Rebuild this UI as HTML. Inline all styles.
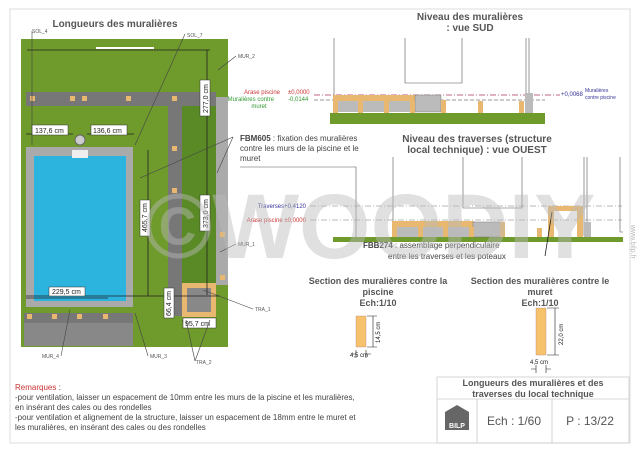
<!DOCTYPE html>
<html><head><meta charset="utf-8"><style>
body{margin:0;background:#fff}
svg{display:block;font-family:"Liberation Sans",sans-serif}
</style></head><body>
<svg width="640" height="452" viewBox="0 0 640 452" xmlns="http://www.w3.org/2000/svg">
<rect x="10" y="9" width="620" height="434" fill="#fff" stroke="#ddd"/>
<!-- plan -->
<text x="115" y="27" font-size="10" font-weight="bold" fill="#555" text-anchor="middle">Longueurs des muralières</text>
<rect x="21" y="39" width="207" height="88" fill="#6f9a2c"/>
<rect x="21" y="127" width="195" height="220" fill="#6f9a2c"/>
<rect x="216" y="97" width="12" height="188" fill="#aaa"/>
<rect x="216" y="285" width="12" height="62" fill="#6f9a2c"/>
<rect x="26" y="92" width="190" height="14" fill="#777"/>
<rect x="168" y="106" width="15" height="210" fill="#777"/>
<rect x="182" y="106" width="34" height="177" fill="#5a8a25"/>
<rect x="182" y="283" width="34" height="34" fill="#e8b870"/>
<rect x="187" y="288" width="24" height="24" fill="#888"/>
<rect x="26" y="147" width="107" height="160" fill="#aaa"/>
<rect x="34" y="156" width="92" height="145" fill="#2cb3de"/>
<rect x="72" y="150" width="16" height="8" fill="#eee"/>
<circle cx="80" cy="140" r="5" fill="#ccc" stroke="#666"/>
<rect x="24" y="313" width="109" height="10" fill="#777"/>
<rect x="24" y="323" width="109" height="23" fill="#888"/>
<g fill="#e8b870"><rect x="30" y="96" width="5" height="5"/><rect x="70" y="96" width="5" height="5"/><rect x="82" y="96" width="5" height="5"/><rect x="126" y="96" width="5" height="5"/><rect x="172" y="96" width="5" height="5"/><rect x="172" y="146" width="5" height="5"/><rect x="172" y="188" width="5" height="5"/><rect x="27" y="314" width="5" height="5"/><rect x="52" y="314" width="5" height="5"/><rect x="77" y="314" width="5" height="5"/><rect x="103" y="314" width="5" height="5"/><rect x="220" y="232" width="5" height="5"/><rect x="220" y="275" width="5" height="5"/></g>
<rect x="96" y="47" width="58" height="2" fill="#fff"/>
<g stroke="#222" stroke-width="0.8" fill="none">
<line x1="27" y1="50" x2="210" y2="50"/><line x1="207" y1="50" x2="207" y2="295"/>
<line x1="26" y1="134" x2="73" y2="134"/><line x1="87" y1="134" x2="134" y2="134"/>
<line x1="148" y1="150" x2="148" y2="296"/><line x1="26" y1="296" x2="220" y2="296"/>
<line x1="26" y1="298" x2="108" y2="298"/>
<line x1="182" y1="321" x2="216" y2="321"/>
</g>
<g fill="#fff" stroke="#333" stroke-width="0.5">
<rect x="32" y="125" width="36" height="10"/><rect x="91" y="125" width="36" height="10"/>
<rect x="200" y="80" width="10" height="36"/><rect x="200" y="195" width="10" height="36"/>
<rect x="140" y="200" width="10" height="36"/><rect x="164" y="288" width="10" height="30"/>
<rect x="49" y="287" width="36" height="9"/><rect x="183" y="318" width="33" height="10"/>
</g>
<g font-size="7" fill="#222">
<text x="35" y="133">137,6 cm</text><text x="93" y="133">136,6 cm</text>
<text x="52" y="294">229,5 cm</text><text x="185" y="326">95,7 cm</text>
<text transform="translate(208,113) rotate(-90)">277,0 cm</text>
<text transform="translate(208,228) rotate(-90)">373,0 cm</text>
<text transform="translate(147,232) rotate(-90)">465,7 cm</text>
<text transform="translate(171,316) rotate(-90)">66,4 cm</text>
</g>
<g font-size="5" fill="#555">
<text x="32" y="33">SOL_4</text><text x="187" y="37">SOL_7</text><text x="238" y="58">MUR_2</text>
<text x="238" y="246">MUR_1</text><text x="255" y="311">TRA_1</text><text x="196" y="364">TRA_2</text>
<text x="150" y="358">MUR_3</text><text x="42" y="358">MUR_4</text>
</g>
<g stroke="#444" stroke-width="0.6"><line x1="32" y1="31" x2="32" y2="145"/><line x1="185" y1="34" x2="135" y2="145"/><line x1="236" y1="56" x2="218" y2="70"/><line x1="236" y1="244" x2="220" y2="252"/><line x1="253" y1="309" x2="203" y2="290"/><line x1="195" y1="361" x2="186" y2="320"/><line x1="195" y1="361" x2="210" y2="320"/><line x1="148" y1="356" x2="135" y2="313"/><line x1="61" y1="356" x2="70" y2="310"/><line x1="233" y1="137" x2="140" y2="178"/><line x1="233" y1="137" x2="217" y2="173"/></g>
<text x="240" y="141" font-size="8" fill="#444"><tspan font-weight="bold">FBM605</tspan> : fixation des muralières</text>
<text x="240" y="151" font-size="8" fill="#444">contre les murs de la piscine et le</text>
<text x="240" y="161" font-size="8" fill="#444">muret</text>
<!-- vue SUD -->
<text x="470" y="20" font-size="10" font-weight="bold" fill="#555" text-anchor="middle">Niveau des muralières</text>
<text x="470" y="31" font-size="10" font-weight="bold" fill="#555" text-anchor="middle">: vue SUD</text>
<g stroke="#555" stroke-width="0.6" fill="none"><line x1="334" y1="38" x2="334" y2="95"/><path d="M405 38V83H462V38"/><line x1="526" y1="38" x2="526" y2="95"/><line x1="529" y1="38" x2="529" y2="95"/></g>
<text x="280" y="94" font-size="6" fill="#c33" text-anchor="end">Arase piscine</text>
<text x="288" y="94" font-size="6" fill="#c33">±0,0000</text>
<text x="274" y="101" font-size="6" fill="#393" text-anchor="end">Muralières contre</text>
<text x="288" y="101" font-size="6" fill="#393">-0,0144</text>
<text x="259" y="108" font-size="6" fill="#393" text-anchor="middle">muret</text>
<line x1="314" y1="95" x2="560" y2="95" stroke="#a36" stroke-width="0.7" stroke-dasharray="6,2,1,2"/>
<line x1="314" y1="100" x2="545" y2="100" stroke="#777" stroke-width="0.7" stroke-dasharray="4,2"/>
<text x="561" y="96" font-size="6" fill="#339">+0,0068</text>
<text x="585" y="92" font-size="5" fill="#339">Muralières</text><text x="585" y="99" font-size="5" fill="#339">contre piscine</text>
<rect x="330" y="113" width="215" height="11" fill="#6f9a2c"/>
<rect x="333" y="95" width="82" height="6" fill="#e8b870"/>
<rect x="338" y="101" width="75" height="11" fill="#bbb"/>
<rect x="415" y="95" width="26" height="17" fill="#bbb" stroke="#666" stroke-width="0.4"/>
<g fill="#e8b870"><rect x="333" y="101" width="5" height="12"/><rect x="358" y="101" width="5" height="12"/><rect x="384" y="101" width="5" height="12"/><rect x="410" y="101" width="5" height="12"/><rect x="441" y="100" width="5" height="13"/><rect x="478" y="101" width="5" height="12"/><rect x="519" y="101" width="5" height="12"/></g>
<rect x="525" y="93" width="8" height="20" fill="#bbb"/>
<!-- vue OUEST -->
<text x="477" y="142" font-size="10" font-weight="bold" fill="#555" text-anchor="middle">Niveau des traverses (structure</text>
<text x="477" y="153" font-size="10" font-weight="bold" fill="#555" text-anchor="middle">local technique) : vue OUEST</text>
<g stroke="#555" stroke-width="0.6" fill="none"><path d="M240 167H356V238"/><line x1="393" y1="157" x2="393" y2="222"/><path d="M463 157V208H522V157"/><line x1="584" y1="157" x2="584" y2="236"/><line x1="587" y1="157" x2="587" y2="236"/><path d="M620 157V232H623"/></g>
<text x="306" y="208" font-size="6" fill="#339" text-anchor="end">Traverses+0,4120</text>
<text x="306" y="222" font-size="6" fill="#c33" text-anchor="end">Arase piscine ±0,0000</text>
<line x1="310" y1="206" x2="622" y2="206" stroke="#777" stroke-width="0.6" stroke-dasharray="6,2,1,2"/>
<line x1="310" y1="220" x2="622" y2="220" stroke="#777" stroke-width="0.6" stroke-dasharray="6,2,1,2"/>
<rect x="333" y="237" width="290" height="5" fill="#6f9a2c"/>
<rect x="392" y="221" width="82" height="6" fill="#e8b870"/>
<rect x="396" y="227" width="77" height="10" fill="#bbb"/>
<rect x="473" y="222" width="28" height="15" fill="#bbb" stroke="#666" stroke-width="0.4"/>
<g fill="#e8b870"><rect x="392" y="227" width="5" height="10"/><rect x="418" y="227" width="5" height="10"/><rect x="443" y="227" width="5" height="10"/><rect x="469" y="227" width="5" height="10"/><rect x="500" y="222" width="5" height="15"/><rect x="537" y="228" width="5" height="9"/></g>
<path d="M548 206h35v31h-6v-26h-23v26h-6z" fill="#e8b870"/>
<rect x="584" y="222" width="7" height="15" fill="#bbb"/>
<line x1="545" y1="256" x2="552" y2="212" stroke="#222" stroke-width="0.8"/>
<text x="363" y="248" font-size="8" fill="#444"><tspan font-weight="bold">FBB274</tspan> : assemblage perpendiculaire</text>
<text x="388" y="259" font-size="8" fill="#444">entre les traverses et les poteaux</text>
<text x="631" y="225" font-size="7" fill="#bbb" transform="rotate(90 631 225)">www.bilp.fr</text>
<!-- watermark -->
<text x="370" y="258" font-size="92" font-weight="bold" fill="#bbb" fill-opacity="0.45" text-anchor="middle">©WOODIY</text>
<!-- sections -->
<g font-size="9" font-weight="bold" fill="#555" text-anchor="middle">
<text x="378" y="284">Section des muralières contre la</text><text x="378" y="295">piscine</text><text x="378" y="306">Ech:1/10</text>
<text x="540" y="284">Section des muralières contre le</text><text x="540" y="295">muret</text><text x="540" y="306">Ech:1/10</text>
</g>
<rect x="356" y="316" width="10" height="31" fill="#f6c26b" stroke="#b88" stroke-width="0.4"/>
<rect x="536" y="308" width="10" height="47" fill="#f6c26b" stroke="#b88" stroke-width="0.4"/>
<g stroke="#222" stroke-width="0.6"><path d="M367 316h10M367 347h10M373 316v31"/><path d="M547 308h12M547 355h12M555 308v47"/><path d="M356 350v8M366 350v8M351 354h5M366 354h5"/><path d="M536 365v8M546 365v8M531 369h5M546 369h5"/></g>
<g font-size="6" fill="#222"><text transform="translate(380,343) rotate(-90)">14,5 cm</text><text transform="translate(563,345) rotate(-90)">22,0 cm</text><text x="350" y="357">4,5 cm</text><text x="530" y="364">4,5 cm</text></g>
<!-- remarks -->
<g font-size="8" fill="#444">
<text x="15" y="390" fill="#c33">Remarques <tspan fill="#444">:</tspan></text>
<text x="15" y="400">-pour ventilation, laisser un espacement de 10mm entre les murs de la piscine et les muralières,</text>
<text x="15" y="410">en insérant des cales ou des rondelles</text>
<text x="15" y="420">-pour ventilation et alignement de la structure, laisser un espacement de 18mm entre le muret et</text>
<text x="15" y="430">les muralières, en insérant des cales ou des rondelles</text>
</g>
<!-- title block -->
<g fill="none" stroke="#ccc" stroke-width="0.8"><rect x="437" y="377" width="192" height="66"/><line x1="437" y1="399" x2="629" y2="399"/><line x1="477" y1="399" x2="477" y2="443"/><line x1="552" y1="399" x2="552" y2="443"/></g>
<text x="533" y="386" font-size="9" font-weight="bold" fill="#555" text-anchor="middle">Longueurs des muralières et des</text>
<text x="533" y="397" font-size="9" font-weight="bold" fill="#555" text-anchor="middle">traverses du local technique</text>
<path d="M445 412l12-7 12 7v18h-24z" fill="#666"/>
<text x="457" y="428" font-size="7" font-weight="bold" fill="#fff" text-anchor="middle">BILP</text>
<text x="514" y="425" font-size="12" fill="#555" text-anchor="middle">Ech : 1/60</text>
<text x="590" y="425" font-size="12" fill="#555" text-anchor="middle">P : 13/22</text>
</svg>
</body></html>
